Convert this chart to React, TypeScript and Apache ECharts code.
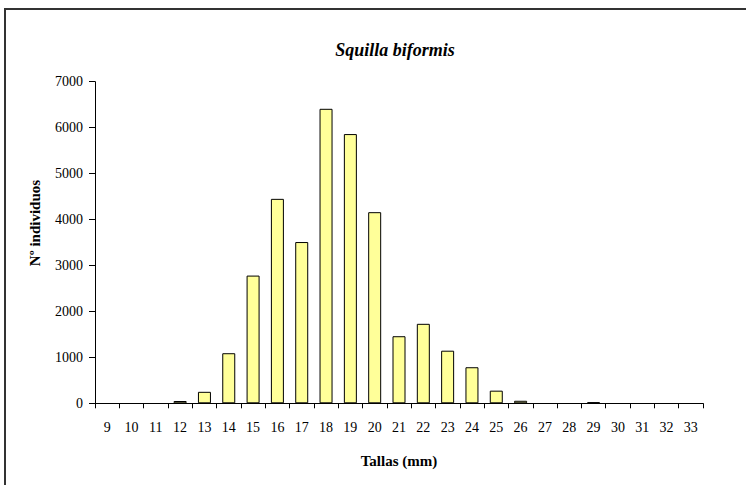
import React, { useEffect, useRef } from "react";
import * as echarts from "echarts";

const categories = ["9","10","11","12","13","14","15","16","17","18","19","20","21","22","23","24","25","26","27","28","29","30","31","32","33"];
const counts = [0,0,0,50,250,1090,2780,4450,3510,6410,5860,4160,1460,1730,1145,785,275,55,0,0,25,0,0,0,0];
const yTicks = { min: 0, max: 7000, interval: 1000 };
const titleText = "Squilla biformis";
const xName = "Tallas (mm)";
const yName = "Nº individuos";

export default function App() {
  const ref = useRef<HTMLDivElement>(null);
  useEffect(() => {
    if (!ref.current) return;
    const chart = echarts.init(ref.current, null, { renderer: "svg" });
    const font = "'Liberation Serif', 'Times New Roman', serif";
    chart.setOption({
      animation: false,
      backgroundColor: "#fff",
      textStyle: { fontFamily: font },
      grid: { left: 95, right: 43, top: 81.7, bottom: 81.7, containLabel: false },
      xAxis: {
        type: "category",
        data: categories,
        boundaryGap: true,
        axisLine: { lineStyle: { color: "#000", width: 1 } },
        axisTick: { show: true, length: 5, lineStyle: { color: "#000" } },
        axisLabel: { color: "#000", fontSize: 14, fontFamily: font, margin: 17, interval: 0 },
        splitLine: { show: false },
      },
      yAxis: {
        type: "value",
        min: yTicks.min,
        max: yTicks.max,
        interval: yTicks.interval,
        axisLine: { show: true, lineStyle: { color: "#000", width: 1 } },
        axisTick: { show: true, length: 6, lineStyle: { color: "#000" } },
        axisLabel: {
          color: "#000",
          fontSize: 14,
          fontFamily: font,
          margin: 12,
          formatter: (v: number) => String(v),
        },
        splitLine: { show: false },
      },
      series: [
        {
          type: "bar",
          data: counts.map((v) =>
            v === 0 ? { value: v, itemStyle: { borderWidth: 0, color: "transparent" } } : v
          ),
          barWidth: 13,
          itemStyle: { color: "#FFFF99", borderColor: "#000", borderWidth: 1 },
        },
      ],
      graphic: [
        {
          type: "rect",
          shape: { x: 5, y: 9, width: 800, height: 600 },
          style: { fill: "none", stroke: "#333", lineWidth: 2 },
          silent: true,
        },
        {
          type: "text",
          x: 395,
          y: 50,
          style: {
            text: titleText,
            font: `italic bold 18px ${font}`,
            fill: "#000",
            align: "center",
            verticalAlign: "middle",
          },
        },
        {
          type: "text",
          x: 399,
          y: 461,
          style: {
            text: xName,
            font: `bold 15px ${font}`,
            fill: "#000",
            align: "center",
            verticalAlign: "middle",
          },
        },
        {
          type: "text",
          x: 35,
          y: 223,
          rotation: Math.PI / 2,
          style: {
            text: yName,
            font: `bold 15px ${font}`,
            fill: "#000",
            align: "center",
            verticalAlign: "middle",
          },
        },
      ],
    });
    return () => chart.dispose();
  }, []);
  return (
    <div
      ref={ref}
      style={{ position: "absolute", left: 0, top: 0, width: 746, height: 485 }}
    />
  );
}
